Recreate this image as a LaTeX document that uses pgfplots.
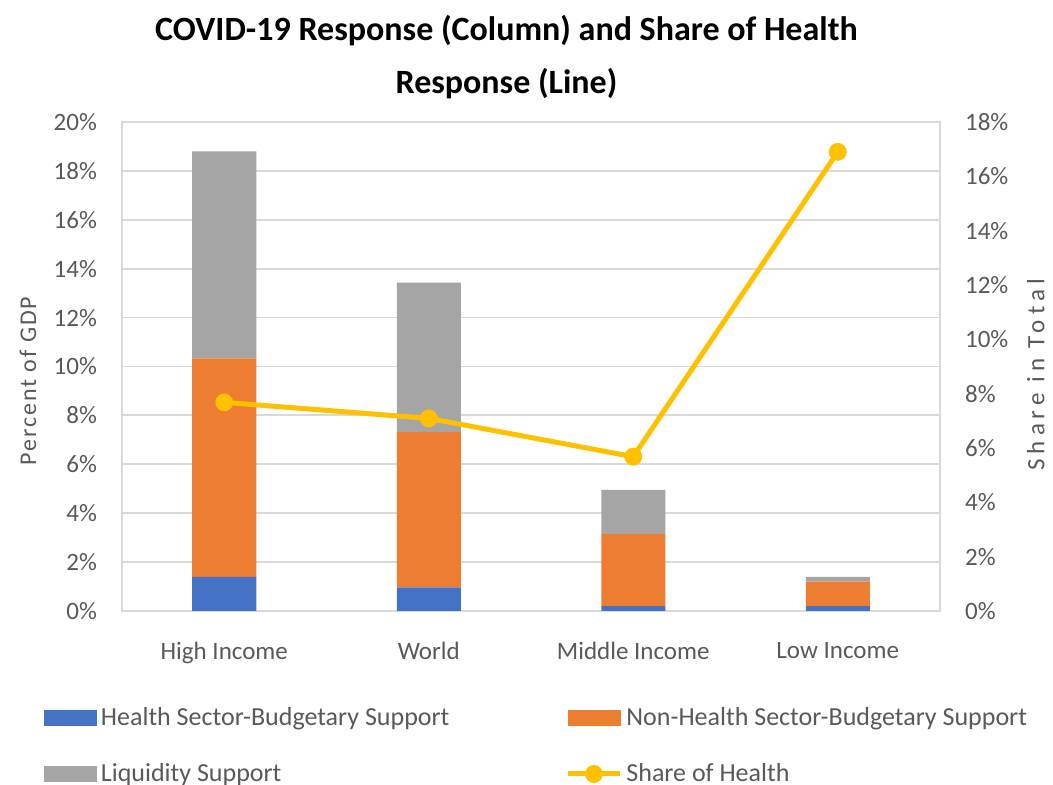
\documentclass[border=0pt]{standalone}
\usepackage{pgfplots}
\pgfplotsset{compat=1.18}
\usepackage{fontspec}
\setmainfont{Carlito}
\definecolor{cblue}{HTML}{4472C4}
\definecolor{corange}{HTML}{ED7D31}
\definecolor{cgray}{HTML}{A5A5A5}
\definecolor{cyellow}{HTML}{FFC000}
\definecolor{gridgray}{HTML}{D9D9D9}
\definecolor{labgray}{HTML}{595959}
\begin{document}
\begin{tikzpicture}
\useasboundingbox (-61pt,-87pt) rectangle (465.5pt,305.5pt);
\begin{axis}[
  at={(0,0)}, anchor=south west,
  scale only axis, width=409pt, height=244.5pt,
  xmin=-0.5, xmax=3.5, ymin=0, ymax=20,
  ybar stacked, bar width=32pt,
  xtick={0,1,2,3},
  xticklabels={High Income, World, Middle Income, Low Income},
  ytick={0,2,...,20},
  yticklabels={0\%,2\%,4\%,6\%,8\%,10\%,12\%,14\%,16\%,18\%,20\%},
  major tick length=0pt,
  axis line style={draw=gridgray, line width=0.9pt},
  ymajorgrids, grid style={draw=gridgray, line width=0.9pt},
  tick label style={font=\fontsize{12.5}{14}\selectfont, text=labgray},
  xticklabel style={yshift=-12pt},
  yticklabel style={xshift=-9pt},
  ylabel={Percent of GDP},
  ylabel style={at={(axis description cs:-0.115,0.47)}, anchor=center,
    font=\fontsize{12}{14}\selectfont\addfontfeature{LetterSpace=8}, text=labgray},
  title={COVID-19 Response (Column) and Share of Health\\Response (Line)},
  title style={align=center, at={(axis description cs:0.47,1)}, anchor=south, yshift=2pt,
    font=\bfseries\fontsize{17}{26.5}\selectfont, text=black},
]
\addplot[fill=cblue, draw=none] coordinates {(0,1.40) (1,0.97) (2,0.20) (3,0.20)};
\addplot[fill=corange, draw=none] coordinates {(0,8.93) (1,6.35) (2,2.94) (3,1.00)};
\addplot[fill=cgray, draw=none] coordinates {(0,8.47) (1,6.11) (2,1.81) (3,0.20)};
\end{axis}
\begin{axis}[
  at={(0,0)}, anchor=south west,
  scale only axis, width=409pt, height=244.5pt,
  xmin=-0.5, xmax=3.5, ymin=0, ymax=18,
  axis y line*=right, axis x line=none,
  ytick={0,2,...,18},
  yticklabels={0\%,2\%,4\%,6\%,8\%,10\%,12\%,14\%,16\%,18\%},
  major tick length=0pt,
  axis line style={draw=gridgray, line width=0.9pt},
  tick label style={font=\fontsize{12.5}{14}\selectfont, text=labgray},
  yticklabel style={xshift=9pt},
  ylabel={Share in Total},
  ylabel style={at={(axis description cs:1.117,0.483)}, anchor=center,
    font=\fontsize{12.5}{14}\selectfont\addfontfeature{LetterSpace=20}, text=labgray},
  legend columns=2,
  legend style={at={(axis description cs:-0.103,-0.18)}, anchor=north west,
    draw=none, fill=none, font=\fontsize{13}{14}\selectfont, text=labgray,
    /tikz/every even column/.append style={column sep=56pt},
    row sep=13.5pt},
  legend cell align=left,
  legend image code/.code={\draw[#1, mark repeat=2, mark phase=2] plot coordinates {(0pt,0pt) (13pt,0pt) (26pt,0pt)};},
]
\addlegendimage{legend image code/.code={\fill[cblue] (0pt,-3.75pt) rectangle (26pt,3.75pt);}}
\addlegendentry{Health Sector-Budgetary Support}
\addlegendimage{legend image code/.code={\fill[corange] (0pt,-3.75pt) rectangle (26pt,3.75pt);}}
\addlegendentry{Non-Health Sector-Budgetary Support}
\addlegendimage{legend image code/.code={\fill[cgray] (0pt,-3.75pt) rectangle (26pt,3.75pt);}}
\addlegendentry{Liquidity Support}
\addplot[color=cyellow, line width=2.5pt, mark=*, mark size=3.2pt]
  coordinates {(0,7.68) (1,7.09) (2,5.68) (3,16.9)};
\addlegendentry{Share of Health}
\end{axis}
\end{tikzpicture}
\end{document}
